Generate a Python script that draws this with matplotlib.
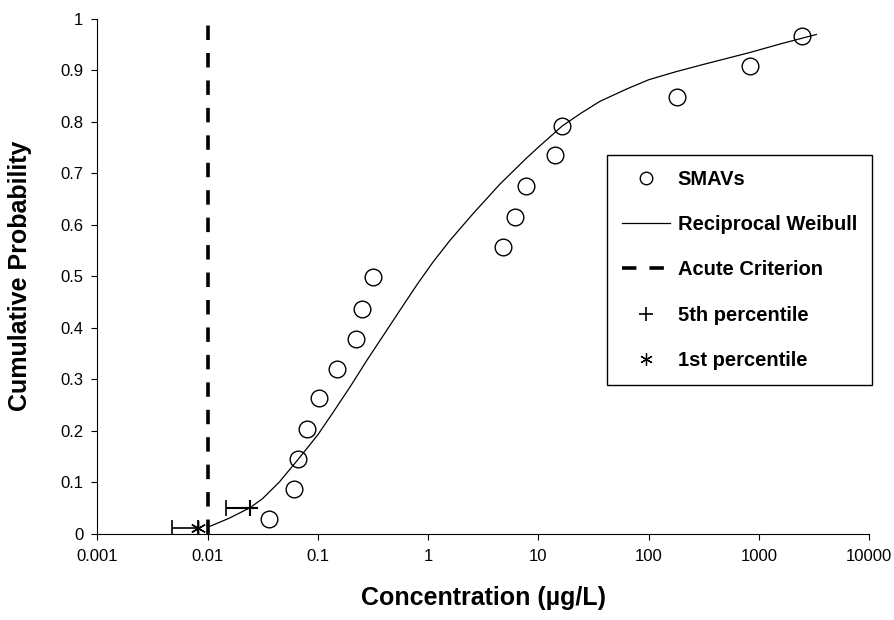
import matplotlib
matplotlib.use('Agg')
import matplotlib.pyplot as plt
import matplotlib.font_manager as fm
from matplotlib.lines import Line2D

# SMAVs (species mean acute values) with plotting positions
smav_conc = [0.0360, 0.0611, 0.0656, 0.0791, 0.1023, 0.150, 0.220, 0.253, 0.318,
             4.80, 6.12, 7.66, 14.1, 16.4, 181, 827, 2432]
smav_prob = [0.028, 0.087, 0.145, 0.203, 0.263, 0.320, 0.379, 0.436, 0.498,
             0.556, 0.616, 0.676, 0.736, 0.792, 0.849, 0.909, 0.967]

# fitted reciprocal Weibull curve
weib_conc = [0.0100, 0.0158, 0.0242, 0.0316, 0.0447, 0.0656, 0.100, 0.138, 0.200,
             0.277, 0.398, 0.555, 0.794, 1.11, 1.58, 2.56, 4.47, 7.82, 10.0,
             16.4, 23.9, 36.1, 63.1, 100, 179, 316, 828, 1585, 3311]
weib_prob = [0.012, 0.030, 0.050, 0.068, 0.100, 0.143, 0.192, 0.236, 0.288,
             0.336, 0.387, 0.434, 0.484, 0.528, 0.570, 0.622, 0.679, 0.730, 0.751,
             0.792, 0.816, 0.840, 0.864, 0.882, 0.898, 0.912, 0.935, 0.952, 0.970]

# acute criterion
criterion = 0.01

# percentiles with lower confidence limits
p5_conc, p5_prob, p5_low = [0.0242], [0.049], [0.0147]
p1_conc, p1_prob, p1_low = [0.00817], [0.0101], [0.00479]

x_ticks = [0.001, 0.01, 0.1, 1, 10, 100, 1000, 10000]
x_labels = ['0.001', '0.01', '0.1', '1', '10', '100', '1000', '10000']
y_ticks = [0, 0.1, 0.2, 0.3, 0.4, 0.5, 0.6, 0.7, 0.8, 0.9, 1]
y_labels = ['0', '0.1', '0.2', '0.3', '0.4', '0.5', '0.6', '0.7', '0.8', '0.9', '1']

names = {f.name for f in fm.fontManager.ttflist}
if 'Liberation Sans Narrow' in names:
    narrow, tick_fs, lab_fs = 'Liberation Sans Narrow', 14, 22
else:
    narrow, tick_fs, lab_fs = 'Liberation Sans', 12, 18
plt.rcParams['font.family'] = ['Liberation Sans', 'DejaVu Sans']

fig = plt.figure(figsize=(8.95, 6.2), dpi=100)
ax = fig.add_axes([0.1087, 0.1395, 0.8626, 0.8298])

ax.plot(weib_conc, weib_prob, color='black', lw=0.9, label='Reciprocal Weibull',
        solid_joinstyle='round', zorder=2)
ax.plot(smav_conc, smav_prob, 'o', ms=12, mfc='none', mec='black', mew=1.0,
        label='SMAVs', zorder=3)
ax.plot([criterion, criterion], [0, 1], color='black', lw=2.6, dashes=(4, 3.6),
        label='Acute Criterion', zorder=4)

lo5 = [c - l for c, l in zip(p5_conc, p5_low)]
lo1 = [c - l for c, l in zip(p1_conc, p1_low)]
ax.errorbar(p5_conc, p5_prob, xerr=[lo5, [0]], fmt='none', ecolor='black',
            elinewidth=1.5, capsize=6, capthick=1.2, zorder=5)
ax.errorbar(p1_conc, p1_prob, xerr=[lo1, [0]], fmt='none', ecolor='black',
            elinewidth=1.2, capsize=6, capthick=1.2, zorder=5)
ax.plot(p5_conc, p5_prob, '+', ms=11, mec='black', mew=1.5, zorder=6)
ax.plot(p1_conc, p1_prob, marker=(6, 2, 0), ls='none', ms=11, mec='black', mew=1.0, zorder=6)

ax.set_xscale('log')
ax.set_xlim(0.001, 10000)
ax.set_ylim(0, 1)
ax.set_xticks(x_ticks)
ax.set_xticklabels(x_labels, fontfamily=narrow, fontsize=tick_fs)
ax.xaxis.set_minor_locator(matplotlib.ticker.NullLocator())
ax.set_yticks(y_ticks)
ax.set_yticklabels(y_labels, fontfamily=narrow, fontsize=tick_fs)
ax.tick_params(direction='out', length=4, width=0.8, color='black', pad=6)
ax.tick_params(axis='x', pad=7)

for s in ['top', 'right']:
    ax.spines[s].set_visible(False)
for s in ['left', 'bottom']:
    ax.spines[s].set_linewidth(0.8)
    ax.spines[s].set_color('black')

ax.set_xlabel('Concentration (µg/L)', fontfamily=narrow, fontsize=lab_fs, fontweight='bold')
ax.set_ylabel('Cumulative Probability', fontfamily=narrow, fontsize=lab_fs, fontweight='bold')
ax.xaxis.set_label_coords(0.5, -0.102)
ax.yaxis.set_label_coords(-0.085, 0.5)

handles = [
    Line2D([], [], ls='none', marker='o', ms=9, mfc='none', mec='black', mew=1.0),
    Line2D([], [], color='black', lw=0.9),
    Line2D([], [], color='black', lw=2.6, dashes=(4, 3.6)),
    Line2D([], [], ls='none', marker='+', ms=10, mec='black', mew=1.2),
    Line2D([], [], ls='none', marker=(6, 2, 0), ms=9, mec='black', mew=0.9),
]
labels = ['SMAVs', 'Reciprocal Weibull', 'Acute Criterion', '5th percentile', '1st percentile']
leg = ax.legend(handles, labels, loc='upper right', bbox_to_anchor=(1.0035, 0.7357),
                borderaxespad=0, fancybox=False, framealpha=1, edgecolor='black',
                prop={'family': 'Liberation Sans', 'weight': 'bold', 'size': 14.5},
                handlelength=2.35, handletextpad=0.4, labelspacing=1.3, borderpad=0.75)
leg.get_frame().set_linewidth(1.0)

fig.savefig('out.png', dpi=100)
